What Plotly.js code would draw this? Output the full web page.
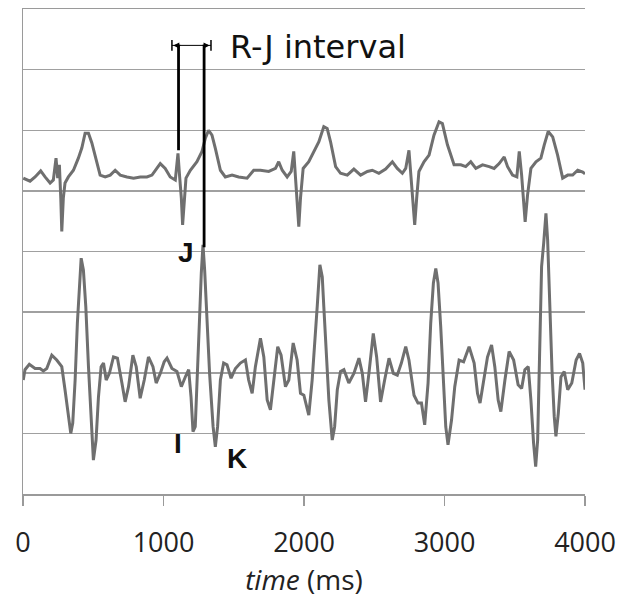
<!DOCTYPE html>
<html>
<head>
<meta charset="utf-8">
<script src="https://cdn.plot.ly/plotly-3.0.1.min.js"></script>
<style>html,body{margin:0;padding:0;background:#fff;}#chart{width:626px;height:598px;}</style>
</head>
<body>
<div id="chart"></div>
<script>
// ECG-like upper trace (time in ms, amplitude in grid units)
var ecgTime = [2,50,86,126,157,193,216,235,247,259,269,276,287,299,323,359,394,419,442,466,490,513,549,585,621,656,692,740,787,835,882,918,941,977,1012,1048,1084,1103,1114,1127,1136,1148,1160,1191,1238,1274,1298,1321,1345,1369,1405,1440,1488,1535,1595,1642,1690,1749,1797,1820,1845,1880,1909,1927,1939,1951,1963,1975,1994,2034,2070,2106,2141,2165,2189,2225,2260,2308,2355,2403,2451,2486,2533,2581,2629,2664,2700,2724,2747,2764,2779,2788,2802,2818,2854,2890,2925,2961,2985,3021,3068,3116,3151,3187,3223,3271,3318,3353,3389,3425,3449,3484,3515,3532,3549,3563,3574,3591,3615,3651,3686,3710,3738,3770,3805,3841,3877,3912,3948,3984,4000];
var ecgValue = [5.21,5.16,5.23,5.33,5.23,5.13,5.18,5.54,5.21,5.43,4.88,4.33,4.88,5.13,5.23,5.34,5.54,5.71,5.95,5.95,5.79,5.59,5.26,5.23,5.26,5.34,5.26,5.23,5.21,5.23,5.23,5.26,5.34,5.45,5.37,5.23,5.18,5.62,5.26,4.88,4.44,4.88,5.21,5.34,5.48,5.65,5.87,6.00,5.92,5.70,5.34,5.23,5.26,5.23,5.21,5.34,5.34,5.32,5.37,5.48,5.34,5.23,5.32,5.65,5.26,4.82,4.41,4.88,5.37,5.48,5.65,5.81,6.06,6.03,5.81,5.40,5.29,5.26,5.36,5.26,5.32,5.34,5.29,5.36,5.48,5.37,5.29,5.37,5.67,5.15,4.77,4.44,4.88,5.32,5.48,5.59,5.92,6.14,6.11,5.76,5.43,5.43,5.40,5.48,5.37,5.43,5.40,5.37,5.45,5.56,5.40,5.26,5.23,5.65,5.26,4.82,4.49,4.93,5.37,5.48,5.54,5.76,5.98,5.89,5.59,5.21,5.26,5.26,5.34,5.31,5.28];

// BCG-like lower trace
var bcgTime = [2,14,45,86,121,145,169,205,240,276,299,323,340,354,371,387,401,414,430,447,466,483,501,520,537,556,573,592,615,644,672,704,727,751,782,806,834,863,893,925,948,977,1005,1025,1060,1096,1127,1155,1179,1196,1210,1226,1243,1257,1269,1281,1293,1310,1328,1353,1369,1385,1405,1428,1452,1481,1512,1547,1583,1606,1631,1654,1690,1714,1738,1761,1785,1813,1837,1868,1892,1923,1951,1975,1999,2034,2058,2075,2094,2113,2130,2141,2160,2177,2201,2218,2237,2260,2284,2319,2355,2391,2415,2438,2462,2493,2517,2545,2574,2605,2636,2664,2693,2724,2747,2783,2811,2836,2859,2883,2902,2921,2938,2954,2973,2992,3009,3025,3050,3073,3104,3136,3175,3211,3235,3253,3278,3306,3335,3358,3382,3401,3430,3460,3492,3524,3549,3572,3596,3615,3634,3649,3663,3677,3691,3706,3722,3734,3748,3765,3781,3793,3810,3829,3852,3877,3906,3937,3961,3984,4000];
var bcgValue = [1.88,2.05,2.14,2.07,2.07,2.03,2.07,2.29,2.21,2.10,1.72,1.28,1.00,1.17,1.88,2.82,3.48,3.89,3.69,3.09,2.10,1.28,0.56,0.89,1.60,2.10,2.16,1.88,1.99,2.26,2.24,1.83,1.52,1.77,2.29,2.10,1.58,1.88,2.26,2.10,1.83,1.99,2.18,2.24,2.07,2.02,1.77,1.93,2.05,1.60,1.03,1.11,1.99,2.92,3.64,4.11,3.69,2.92,1.99,1.11,0.78,1.11,1.88,2.16,2.13,1.91,2.07,2.16,2.21,1.88,1.66,2.10,2.57,2.26,1.55,1.39,1.83,2.43,2.29,1.77,1.88,2.49,2.21,1.66,1.63,1.30,1.88,2.54,3.09,3.78,3.58,3.09,2.26,1.55,0.89,1.11,1.72,2.02,2.05,1.83,1.99,2.24,1.99,1.52,1.99,2.65,2.26,1.52,1.88,2.24,1.99,1.96,2.16,2.43,2.21,1.63,1.50,1.50,1.14,1.83,2.82,3.48,3.72,3.48,2.76,1.88,1.11,0.81,1.22,1.77,2.21,2.18,2.43,2.16,1.66,1.50,1.83,2.26,2.46,2.10,1.55,1.36,1.88,2.35,2.21,1.80,1.74,2.05,2.10,1.55,0.84,0.45,0.89,2.49,3.75,4.14,4.63,4.19,3.04,2.05,1.28,0.95,1.33,1.93,2.02,1.72,1.83,2.21,2.32,2.16,1.72];

// x tick labels
var xTickVals = [0,1000,2000,3000,4000];
var xTickText = ["0","1000","2000","3000","4000"];

// annotation anchors (data units)
var rjLines = [{t:1107, from:5.67, to:7.41},{t:1289, from:4.07, to:7.41}];
var rjArrow = {t0:1060, t1:1338, v:7.40};
var rjText = {t:1462, v:7.37, text:"R-J interval"};
var pointLabels = [{t:1162, v:3.98, text:"J"},{t:1105, v:0.84, text:"I"},{t:1526, v:0.59, text:"K"}];

var traceColor = "#6f6f6f";
var data = [
  {x: ecgTime, y: ecgValue, type: "scatter", mode: "lines", line: {color: traceColor, width: 3}, hoverinfo: "skip"},
  {x: bcgTime, y: bcgValue, type: "scatter", mode: "lines", line: {color: traceColor, width: 3}, hoverinfo: "skip"}
];

var shapes = [];
rjLines.forEach(function(l){
  shapes.push({type:"line", xref:"x", yref:"y", x0:l.t, x1:l.t, y0:l.from, y1:l.to, line:{color:"#000", width:2.8}});
});
shapes.push({type:"line", xref:"x", yref:"y", x0:rjArrow.t0, x1:rjArrow.t1, y0:rjArrow.v, y1:rjArrow.v, line:{color:"#000", width:1}});
[rjArrow.t0, rjArrow.t1].forEach(function(t){
  shapes.push({type:"line", xref:"x", yref:"y", x0:t, x1:t, y0:rjArrow.v-0.09, y1:rjArrow.v+0.09, line:{color:"#000", width:1.5}});
});

var annotations = [];
annotations.push({x:rjArrow.t0+10, y:rjArrow.v, ax:rjArrow.t0+70, ay:rjArrow.v, xref:"x", yref:"y", axref:"x", ayref:"y", text:"", showarrow:true, arrowhead:2, arrowsize:1, arrowwidth:1.2, arrowcolor:"#000"});
annotations.push({x:rjArrow.t1-10, y:rjArrow.v, ax:rjArrow.t1-70, ay:rjArrow.v, xref:"x", yref:"y", axref:"x", ayref:"y", text:"", showarrow:true, arrowhead:2, arrowsize:1, arrowwidth:1.2, arrowcolor:"#000"});
annotations.push({x:rjText.t, y:rjText.v, xref:"x", yref:"y", text:rjText.text, showarrow:false, xanchor:"left", yanchor:"middle", font:{family:"DejaVu Sans", size:32, color:"#111"}});
pointLabels.forEach(function(p){
  annotations.push({x:p.t, y:p.v, xref:"x", yref:"y", text:"<b>"+p.text+"</b>", showarrow:false, xanchor:"center", yanchor:"middle", font:{family:"Liberation Sans, Arial", size:28, color:"#111"}});
});

var layout = {
  width: 626, height: 598,
  margin: {l: 23, r: 41, t: 9, b: 104},
  paper_bgcolor: "#fff", plot_bgcolor: "#fff",
  showlegend: false,
  xaxis: {
    range: [0, 4000], tickvals: xTickVals, ticktext: xTickText,
    showgrid: false, zeroline: false,
    showline: true, mirror: true, linecolor: "#9a9a9a", linewidth: 1.5,
    ticks: "outside", ticklen: 10, tickcolor: "#9a9a9a", tickwidth: 1.5,
    ticklabelstandoff: 14,
    tickfont: {family: "Open Sans", size: 27, color: "#222"},
    title: {text: "<i>time</i> (ms)", font: {family: "Open Sans", size: 28, color: "#222"}, standoff: 16}
  },
  yaxis: {
    range: [0, 8], dtick: 1, tick0: 0,
    showticklabels: false, ticks: "",
    showgrid: true, gridcolor: "#a0a0a0", gridwidth: 1.5,
    zeroline: false,
    showline: true, linecolor: "#9a9a9a", linewidth: 1.5
  },
  shapes: shapes,
  annotations: annotations
};

Plotly.newPlot("chart", data, layout, {staticPlot: true, displayModeBar: false});
</script>
</body>
</html>
